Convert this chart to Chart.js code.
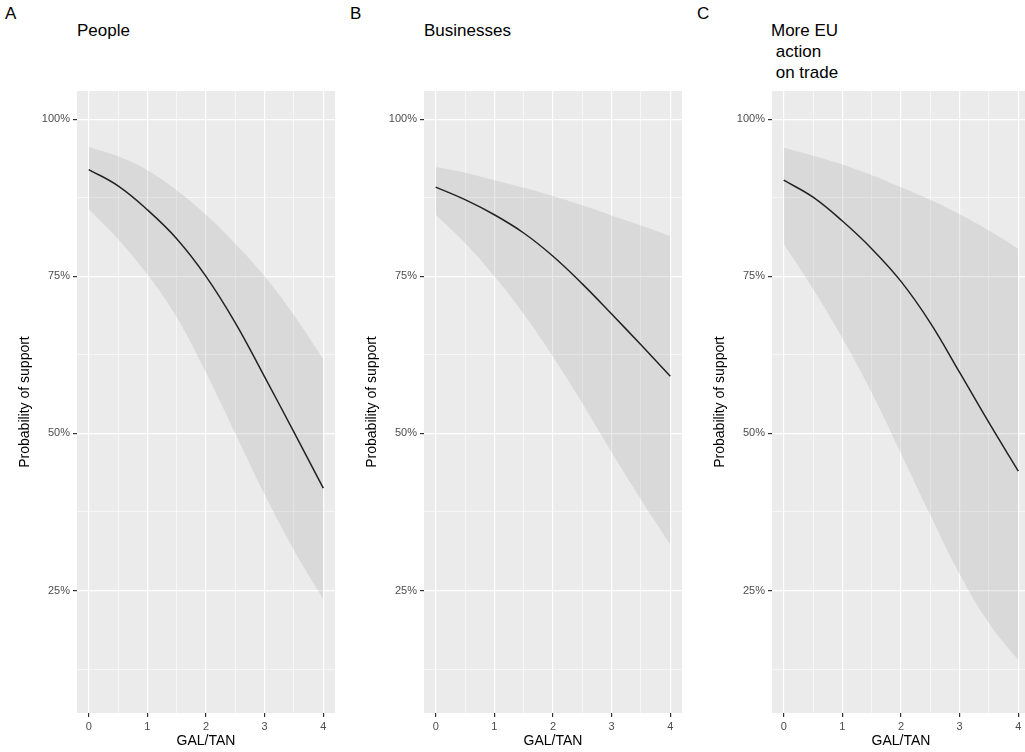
<!DOCTYPE html>
<html>
<head>
<meta charset="utf-8">
<script src="https://cdn.jsdelivr.net/npm/chart.js@4.4.1/dist/chart.umd.min.js"></script>
<style>
  body { margin: 0; background: #fff; width: 1025px; height: 752px; overflow: hidden; position: relative; font-family: "Liberation Sans", Arial, sans-serif; }
  .panel { position: absolute; top: 0; height: 752px; width: 345px; }
  .tag { position: absolute; top: 4px; font-size: 17px; color: #000; }
  .title { position: absolute; top: 20px; font-size: 17px; line-height: 21px; color: #000; white-space: pre; }
</style>
</head>
<body>
<div class="tag" style="left:5px">A</div>
<div class="tag" style="left:350px">B</div>
<div class="tag" style="left:697px">C</div>
<div class="title" style="left:77px">People</div>
<div class="title" style="left:424px">Businesses</div>
<div class="title" style="left:771px">More EU
 action
 on trade</div>

<div class="panel" style="left:0px"><canvas id="chartA"></canvas></div>
<div class="panel" style="left:347px"><canvas id="chartB"></canvas></div>
<div class="panel" style="left:695px"><canvas id="chartC"></canvas></div>

<script>
// GAL/TAN positions the predictions were read at
const galTan = [0, 0.5, 1, 1.5, 2, 2.5, 3, 3.5, 4];

// A: People
const peopleFit   = [0.920, 0.894, 0.856, 0.810, 0.750, 0.676, 0.590, 0.502, 0.413];
const peopleUpper = [0.956, 0.941, 0.919, 0.887, 0.848, 0.802, 0.750, 0.688, 0.618];
const peopleLower = [0.857, 0.809, 0.753, 0.685, 0.597, 0.500, 0.403, 0.314, 0.236];

// B: Businesses
const businessFit   = [0.892, 0.872, 0.848, 0.819, 0.782, 0.738, 0.690, 0.641, 0.591];
const businessUpper = [0.924, 0.915, 0.903, 0.891, 0.878, 0.863, 0.847, 0.831, 0.814];
const businessLower = [0.848, 0.803, 0.750, 0.690, 0.622, 0.548, 0.470, 0.395, 0.323];

// C: More EU action on trade
const tradeFit   = [0.903, 0.876, 0.838, 0.794, 0.742, 0.676, 0.597, 0.517, 0.440];
const tradeUpper = [0.955, 0.942, 0.928, 0.911, 0.892, 0.872, 0.849, 0.823, 0.794];
const tradeLower = [0.802, 0.730, 0.652, 0.565, 0.468, 0.370, 0.276, 0.198, 0.139];

// axis breaks
const xMajor = [0, 1, 2, 3, 4];
const xMinor = [0.5, 1.5, 2.5, 3.5];
const yMajor = [0.25, 0.5, 0.75, 1];
const yMinor = [0.125, 0.375, 0.625, 0.875];
const yTickLabels = ['25%', '50%', '75%', '100%'];

Chart.defaults.font.family = '"Liberation Sans", Arial, sans-serif';
Chart.defaults.animation = false;

const panelBackground = {
    id: 'panelBackground',
    beforeDraw(chart) {
        const a = chart.chartArea;
        const ctx = chart.ctx;
        ctx.save();
        ctx.fillStyle = '#EBEBEB';
        ctx.fillRect(a.left, a.top, a.right - a.left, a.bottom - a.top);
        ctx.restore();
    }
};

function toPoints(values) {
    return galTan.map((x, i) => ({ x: x, y: values[i] }));
}

function isMajor(list, v) {
    return list.some(m => Math.abs(m - v) < 1e-9);
}

function gridOptions(majors) {
    return {
        color: '#FFFFFF',
        lineWidth: ctx => isMajor(majors, ctx.tick.value) ? 1.2 : 0.6,
        tickColor: ctx => isMajor(majors, ctx.tick.value) ? '#333333' : 'rgba(0,0,0,0)',
        tickLength: 4,
        drawTicks: true
    };
}

function makeChart(id, fit, upper, lower) {

    const ctx = document.getElementById(id).getContext('2d');

    return new Chart(ctx, {

        type: 'line',

        data: {
            datasets: [{
                data: toPoints(upper),
                borderWidth: 0,
                pointRadius: 0,
                backgroundColor: 'rgba(153,153,153,0.22)',
                fill: '+1',
                tension: 0.4
            }, {
                data: toPoints(lower),
                borderWidth: 0,
                pointRadius: 0,
                fill: false,
                tension: 0.4
            }, {
                data: toPoints(fit),
                borderColor: '#000000',
                borderWidth: 1.5,
                pointRadius: 0,
                fill: false,
                tension: 0.4
            }]
        },

        options: {

            responsive: true,

            maintainAspectRatio: false,

            layout: {
                padding: { top: 91, right: 10, bottom: 0, left: 0 }
            },

            plugins: {
                legend: { display: false },
                tooltip: { enabled: false }
            },

            scales: {

                x: {
                    type: 'linear',
                    min: -0.2,
                    max: 4.2,
                    border: { display: false },
                    grid: gridOptions(xMajor),
                    afterBuildTicks: scale => {
                        scale.ticks = xMajor.concat(xMinor).map(v => ({ value: v }));
                    },
                    afterFit: scale => { scale.height = 39; },
                    ticks: {
                        color: '#4D4D4D',
                        font: { size: 11 },
                        padding: 3,
                        maxRotation: 0,
                        autoSkip: false,
                        callback: v => isMajor(xMajor, v) ? String(v) : ''
                    },
                    title: {
                        display: true,
                        text: 'GAL/TAN',
                        color: '#000000',
                        font: { size: 14 },
                        padding: { top: 0, bottom: 2 }
                    }
                },

                y: {
                    min: 0.055,
                    max: 1.045,
                    border: { display: false },
                    grid: gridOptions(yMajor),
                    afterBuildTicks: scale => {
                        scale.ticks = yMajor.concat(yMinor).map(v => ({ value: v }));
                    },
                    afterFit: scale => { scale.width = 77; },
                    ticks: {
                        color: '#4D4D4D',
                        font: { size: 11 },
                        padding: 3,
                        autoSkip: false,
                        callback: v => {
                            const i = yMajor.findIndex(m => Math.abs(m - v) < 1e-9);
                            return i >= 0 ? yTickLabels[i] : '';
                        }
                    },
                    title: {
                        display: true,
                        text: 'Probability of support',
                        color: '#000000',
                        font: { size: 14 },
                        padding: { top: 17, bottom: 0 }
                    }
                }
            }
        },

        plugins: [panelBackground]
    });
}

makeChart('chartA', peopleFit, peopleUpper, peopleLower);
makeChart('chartB', businessFit, businessUpper, businessLower);
makeChart('chartC', tradeFit, tradeUpper, tradeLower);
</script>
</body>
</html>
